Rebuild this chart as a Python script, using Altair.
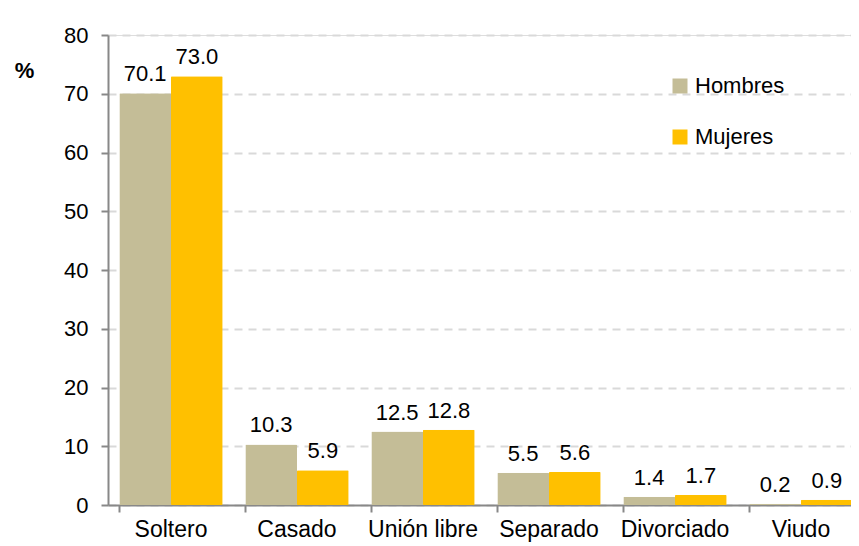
import altair as alt
import pandas as pd

categories = ["Soltero", "Casado", "Unión libre", "Separado", "Divorciado", "Viudo"]
hombres = [70.1, 10.3, 12.5, 5.5, 1.4, 0.2]
mujeres = [73.0, 5.9, 12.8, 5.6, 1.7, 0.9]
series = ["Hombres", "Mujeres"]
colors = ["#C4BD97", "#FFC000"]

rows = []
for c, h, m in zip(categories, hombres, mujeres):
    rows.append({"cat": c, "sexo": "Hombres", "v": h, "lbl": f"{h:.1f}"})
    rows.append({"cat": c, "sexo": "Mujeres", "v": m, "lbl": f"{m:.1f}"})
df = pd.DataFrame(rows)

FONT = "Liberation Sans"

x = alt.X("cat:N", sort=categories, title=None,
          scale=alt.Scale(paddingInner=0.18, paddingOuter=0.09, range=[0, 756]),
          axis=alt.Axis(labelAngle=0, labelFontSize=23, labelFont=FONT, labelColor="#000",
                        labelPadding=6, tickSize=7, tickColor="#888", domainColor="#888",
                        bandPosition=0, grid=False, tickWidth=2, domainWidth=2))
y = alt.Y("v:Q", scale=alt.Scale(domain=[0, 80]),
          axis=alt.Axis(values=list(range(0, 81, 10)), labelFontSize=22, labelFont=FONT,
                        labelColor="#000", tickSize=7, tickColor="#888", domainColor="#888",
                        labelPadding=13, tickWidth=2, domainWidth=2,
                        gridDash=[8, 6], gridColor="#d9d9d9", gridWidth=2,
                        title="%", titleAngle=0, titleFont=FONT, titleFontSize=22,
                        titleFontWeight="bold", titleX=-84, titleY=35,
                        titleAlign="center", titleBaseline="middle"))
xo = alt.XOffset("sexo:N", sort=series, scale=alt.Scale(paddingInner=0, paddingOuter=0))
color = alt.Color("sexo:N", sort=series, scale=alt.Scale(domain=series, range=colors),
                  legend=alt.Legend(title=None, orient="none", legendX=561, legendY=40,
                                    symbolType="square", symbolSize=225, symbolStrokeWidth=0,
                                    labelFontSize=22, labelFont=FONT, labelColor="#000",
                                    labelOffset=4, rowPadding=29))

bars = alt.Chart(df).mark_bar(cornerRadius=1).encode(x=x, y=y, xOffset=xo, color=color)
text = alt.Chart(df).mark_text(fontSize=22, font=FONT, color="#000", dy=-12,
                               baseline="alphabetic").encode(
    x=x, y=y, xOffset=xo, text="lbl:N")

chart = (bars + text).properties(
    width=743, height=470,
    autosize=alt.AutoSizeParams(type="none"),
    padding={"left": 100, "top": 27, "right": 0, "bottom": 38},
).configure_view(stroke=None).configure(background="white")

chart.save("out.html", embed_options={"renderer": "svg", "actions": False})
